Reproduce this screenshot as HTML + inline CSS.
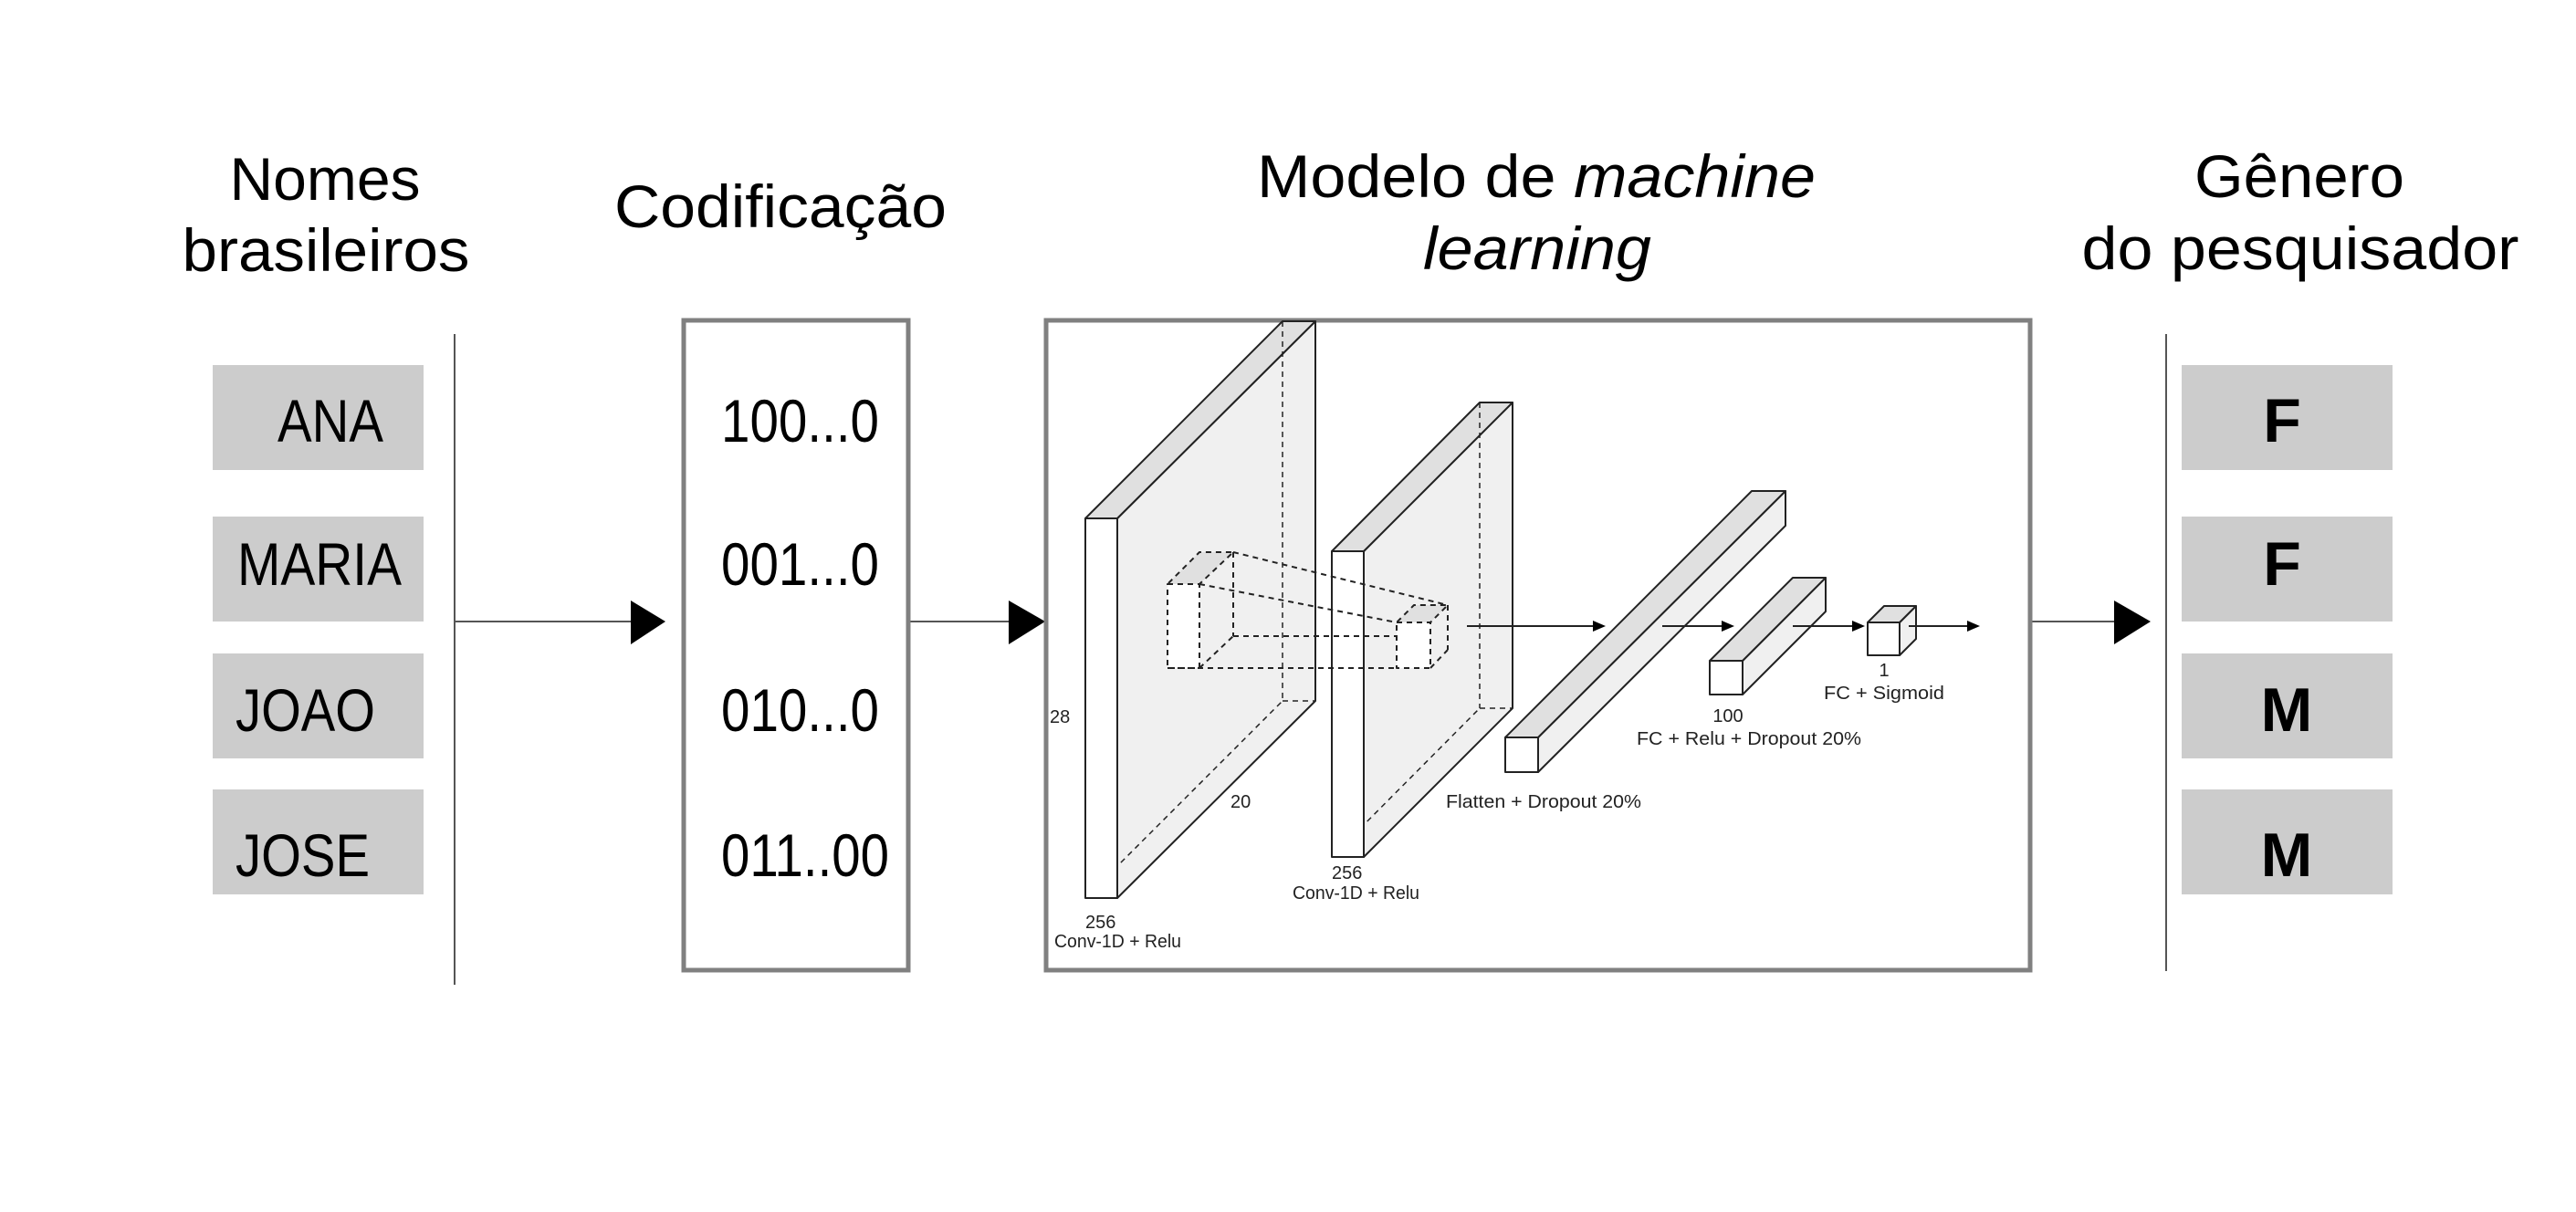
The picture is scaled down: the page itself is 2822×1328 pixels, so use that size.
<!DOCTYPE html>
<html><head><meta charset="utf-8"><style>html,body{margin:0;padding:0;background:#fff}svg{display:block}</style></head>
<body>
<svg width="2822" height="1328" viewBox="0 0 2822 1328" xmlns="http://www.w3.org/2000/svg" font-family="Liberation Sans, sans-serif">
<rect width="2822" height="1328" fill="#fff"/>
<g font-size="66" fill="#000" text-anchor="middle">
<text x="356" y="219">Nomes</text>
<text x="357" y="297" textLength="315" lengthAdjust="spacingAndGlyphs">brasileiros</text>
<text x="855" y="249" textLength="364" lengthAdjust="spacingAndGlyphs">Codificação</text>
<text x="1683" y="216" textLength="612" lengthAdjust="spacingAndGlyphs">Modelo de <tspan font-style="italic">machine</tspan></text>
<text x="1684" y="295" font-style="italic" textLength="250" lengthAdjust="spacingAndGlyphs">learning</text>
<text x="2519" y="216" textLength="230" lengthAdjust="spacingAndGlyphs">Gênero</text>
<text x="2520" y="295" textLength="479" lengthAdjust="spacingAndGlyphs">do pesquisador</text>
</g>
<g fill="#cccccc">
<rect x="233" y="400" width="231" height="115"/>
<rect x="233" y="566" width="231" height="115"/>
<rect x="233" y="716" width="231" height="115"/>
<rect x="233" y="865" width="231" height="115"/>
<rect x="2390" y="400" width="231" height="115"/>
<rect x="2390" y="566" width="231" height="115"/>
<rect x="2390" y="716" width="231" height="115"/>
<rect x="2390" y="865" width="231" height="115"/>
</g>
<g font-size="66" fill="#000">
<text x="304" y="484" textLength="116" lengthAdjust="spacingAndGlyphs">ANA</text>
<text x="260" y="641" textLength="180" lengthAdjust="spacingAndGlyphs">MARIA</text>
<text x="258" y="801" textLength="153" lengthAdjust="spacingAndGlyphs">JOAO</text>
<text x="258" y="960" textLength="147" lengthAdjust="spacingAndGlyphs">JOSE</text>
<text x="790" y="484" textLength="173" lengthAdjust="spacingAndGlyphs">100...0</text>
<text x="790" y="641" textLength="173" lengthAdjust="spacingAndGlyphs">001...0</text>
<text x="790" y="801" textLength="173" lengthAdjust="spacingAndGlyphs">010...0</text>
<text x="790" y="960" textLength="184" lengthAdjust="spacingAndGlyphs">011..00</text>
</g>
<g font-size="68" font-weight="bold" fill="#000" text-anchor="middle">
<text x="2500" y="484">F</text>
<text x="2500" y="641">F</text>
<text x="2505" y="801">M</text>
<text x="2505" y="960">M</text>
</g>
<g stroke="#555" stroke-width="2">
<line x1="498" y1="366" x2="498" y2="1079"/>
<line x1="498" y1="681" x2="692" y2="681"/>
<line x1="995" y1="681" x2="1106" y2="681"/>
<line x1="2224" y1="681" x2="2317" y2="681"/>
<line x1="2373" y1="366" x2="2373" y2="1064"/>
</g>
<g fill="#000">
<polygon points="691,658 729,681 691,706"/>
<polygon points="1105,658 1145,681 1105,706"/>
<polygon points="2316,658 2356,681 2316,706"/>
</g>
<rect x="749" y="351" width="246" height="712" fill="none" stroke="#808080" stroke-width="5"/>
<rect x="1146" y="351" width="1078" height="712" fill="none" stroke="#808080" stroke-width="5"/>
<g stroke="#222" stroke-width="2" stroke-linejoin="round">
<polygon points="1224,568 1441,352 1441,768 1224,984" fill="#f0f0f0"/>
<polygon points="1189,568 1224,568 1441,352 1405,352" fill="#e0e0e0"/>
<g stroke-dasharray="6,5" fill="none" stroke-width="1.5">
<line x1="1405" y1="352" x2="1405" y2="768"/><line x1="1405" y1="768" x2="1441" y2="768"/><line x1="1189" y1="984" x2="1405" y2="768"/>
</g>
<rect x="1189" y="568" width="35" height="416" fill="#fff"/>
<polygon points="1494,604 1657,441 1657,776 1494,939" fill="#f0f0f0"/>
<polygon points="1459,604 1494,604 1657,441 1621,441" fill="#e0e0e0"/>
<g stroke-dasharray="6,5" fill="none" stroke-width="1.5">
<line x1="1621" y1="441" x2="1621" y2="776"/><line x1="1621" y1="776" x2="1657" y2="776"/><line x1="1459" y1="939" x2="1621" y2="776"/>
</g>
<rect x="1459" y="604" width="35" height="335" fill="#fff"/>
<g stroke-dasharray="6,5" fill="none" stroke-width="2">
<polygon points="1279,640 1314,640 1351,605 1314,605" fill="#e0e0e0"/>
<rect x="1279" y="640" width="35" height="92" fill="#fff"/>
<line x1="1351" y1="605" x2="1351" y2="697"/>
<line x1="1314" y1="732" x2="1351" y2="697"/>
<line x1="1314" y1="640" x2="1530" y2="682"/>
<line x1="1351" y1="605" x2="1586" y2="663"/>
<line x1="1351" y1="697" x2="1530" y2="697"/>
<line x1="1279" y1="732" x2="1530" y2="732"/>
<polygon points="1530,682 1567,682 1586,663 1549,663" fill="#e0e0e0"/>
<rect x="1530" y="682" width="37" height="50" fill="#fff"/>
<line x1="1586" y1="663" x2="1586" y2="712"/><line x1="1567" y1="732" x2="1586" y2="712"/>
</g>
<polygon points="1685,808 1956,538 1956,576 1685,846" fill="#f0f0f0"/>
<polygon points="1649,808 1685,808 1956,538 1919,538" fill="#e0e0e0"/>
<rect x="1649" y="808" width="36" height="38" fill="#fff"/>
<polygon points="1909,724 2000,633 2000,670 1909,761" fill="#f0f0f0"/>
<polygon points="1873,724 1909,724 2000,633 1964,633" fill="#e0e0e0"/>
<rect x="1873" y="724" width="36" height="37" fill="#fff"/>
<polygon points="2081,682 2099,664 2099,700 2081,718" fill="#f0f0f0"/>
<polygon points="2046,682 2081,682 2099,664 2064,664" fill="#e0e0e0"/>
<rect x="2046" y="682" width="35" height="36" fill="#fff"/>
<line x1="1607" y1="686" x2="1750" y2="686"/>
<line x1="1821" y1="686" x2="1891" y2="686"/>
<line x1="1964" y1="686" x2="2034" y2="686"/>
<line x1="2091" y1="686" x2="2160" y2="686"/>
</g>
<g fill="#000">
<polygon points="1745,680 1759,686 1745,692"/>
<polygon points="1886,680 1900,686 1886,692"/>
<polygon points="2029,680 2043,686 2029,692"/>
<polygon points="2155,680 2169,686 2155,692"/>
</g>
<g font-size="20" fill="#222">
<text x="1150" y="792">28</text>
<text x="1348" y="885">20</text>
<text x="1189" y="1017">256</text>
<text x="1155" y="1038" textLength="139" lengthAdjust="spacingAndGlyphs">Conv-1D + Relu</text>
<text x="1459" y="963">256</text>
<text x="1416" y="985" textLength="139" lengthAdjust="spacingAndGlyphs">Conv-1D + Relu</text>
<text x="1584" y="885" textLength="214" lengthAdjust="spacingAndGlyphs">Flatten + Dropout  20%</text>
<text x="1893" y="791" text-anchor="middle">100</text>
<text x="1793" y="816" textLength="246" lengthAdjust="spacingAndGlyphs">FC + Relu + Dropout 20%</text>
<text x="2064" y="741" text-anchor="middle">1</text>
<text x="1998" y="766" textLength="132" lengthAdjust="spacingAndGlyphs">FC + Sigmoid</text>
</g>
</svg>
</body></html>
